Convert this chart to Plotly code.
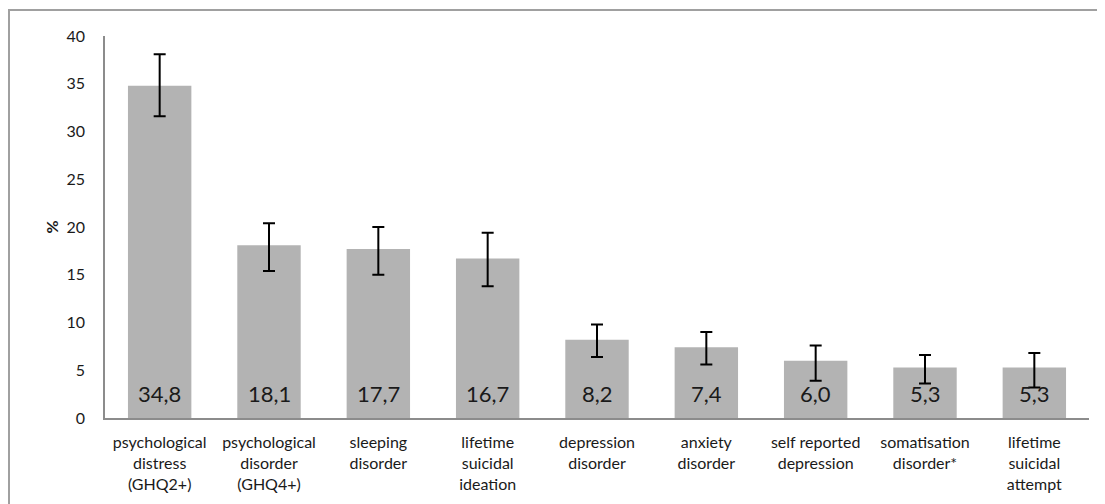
import plotly.graph_objects as go

categories = [
    "psychological<br>distress<br>(GHQ2+)",
    "psychological<br>disorder<br>(GHQ4+)",
    "sleeping<br>disorder",
    "lifetime<br>suicidal<br>ideation",
    "depression<br>disorder",
    "anxiety<br>disorder",
    "self reported<br>depression",
    "somatisation<br>disorder*",
    "lifetime<br>suicidal<br>attempt",
]
values = [34.8, 18.1, 17.7, 16.7, 8.2, 7.4, 6.0, 5.3, 5.3]
ci_high = [38.1, 20.4, 20.0, 19.4, 9.8, 9.0, 7.6, 6.6, 6.8]
ci_low = [31.6, 15.4, 15.0, 13.8, 6.4, 5.6, 3.9, 3.6, 3.2]
value_labels = ["34,8", "18,1", "17,7", "16,7", "8,2", "7,4", "6,0", "5,3", "5,3"]
y_ticks = [0, 5, 10, 15, 20, 25, 30, 35, 40]

err_plus = [h - v for h, v in zip(ci_high, values)]
err_minus = [v - l for v, l in zip(values, ci_low)]

FONT = "Lato, 'Open Sans', sans-serif"
TXT = "#1a1a1a"

fig = go.Figure(
    go.Bar(
        x=categories,
        y=values,
        marker=dict(color="#b3b3b3", line=dict(width=0)),
        error_y=dict(
            type="data",
            symmetric=False,
            array=err_plus,
            arrayminus=err_minus,
            color="#000000",
            thickness=2,
            width=6,
        ),
        hoverinfo="skip",
    )
)

annotations = [
    dict(
        x=c, y=0, xref="x", yref="y", text=t, showarrow=False,
        yanchor="bottom", yshift=9,
        font=dict(family=FONT, size=22, color=TXT),
    )
    for c, t in zip(categories, value_labels)
]

fig.update_layout(
    width=1105,
    height=504,
    margin=dict(l=97, r=24, t=28, b=94),
    paper_bgcolor="white",
    plot_bgcolor="white",
    bargap=0.42,
    showlegend=False,
    font=dict(family=FONT, size=16, color=TXT),
    annotations=annotations,
    xaxis=dict(
        showline=True,
        linecolor="#8c8c8c",
        linewidth=1.5,
        showgrid=False,
        ticks="",
        tickfont=dict(family=FONT, size=16, color=TXT),
        ticklabelstandoff=9,
        automargin=False,
    ),
    yaxis=dict(
        range=[0, 40],
        tickvals=y_ticks,
        showline=True,
        linecolor="#8c8c8c",
        linewidth=1.5,
        showgrid=False,
        zeroline=False,
        ticks="",
        tickfont=dict(family=FONT, size=16, color=TXT),
        ticklabelstandoff=15,
        automargin=False,
        title=dict(text="<b>%</b>", font=dict(family=FONT, size=16, color=TXT), standoff=4),
    ),
    shapes=[
        dict(
            type="rect",
            xref="paper",
            yref="paper",
            x0=(1 - 97) / 984,
            x1=1.1,
            y0=-0.4,
            y1=1 + (28 - 2) / 382,
            line=dict(color="#a0a0a0", width=2),
            fillcolor="rgba(0,0,0,0)",
            layer="below",
        )
    ],
)

fig.write_html("out.html")
